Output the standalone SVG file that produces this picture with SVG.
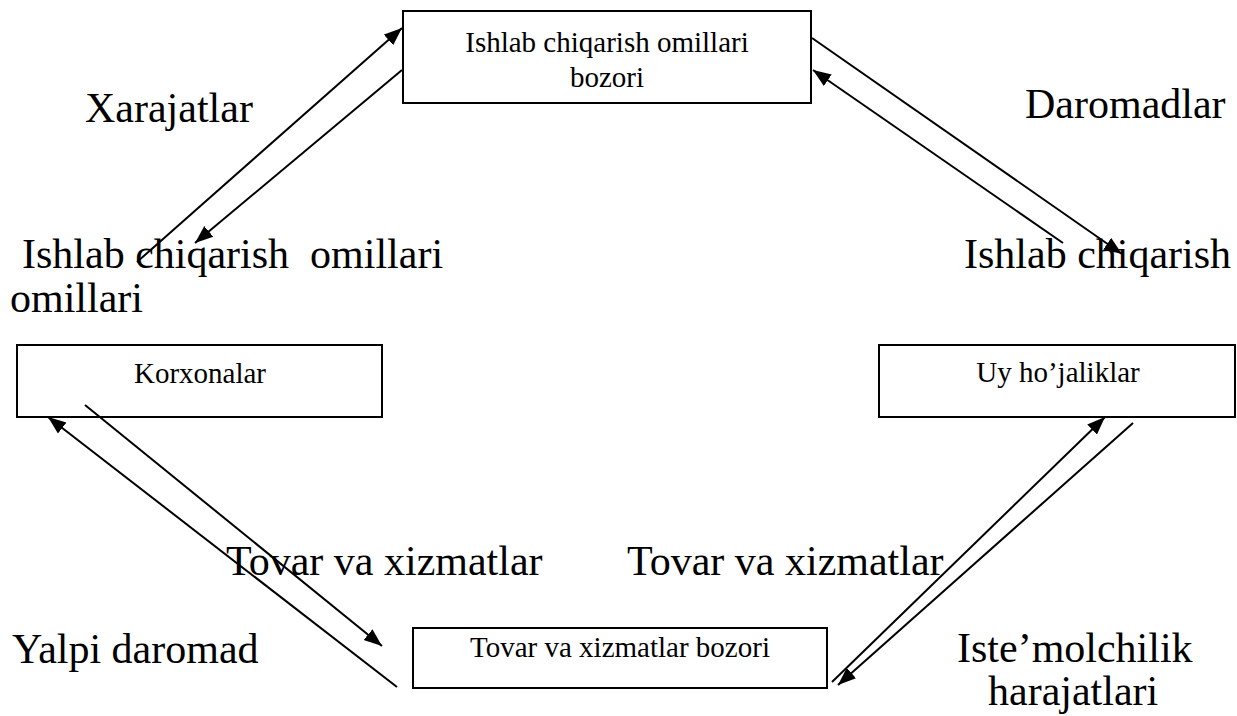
<svg xmlns="http://www.w3.org/2000/svg" width="1237" height="716" viewBox="0 0 1237 716">
<style>
.box{fill:#fff;stroke:#000;stroke-width:2}
.t{font-family:"Liberation Serif","Times New Roman","DejaVu Serif",serif;fill:#000}
.s{font-size:29px}
.b{font-size:42px}
.c{stroke:#000;stroke-width:2;fill:none;marker-end:url(#ah)}
</style>
<defs>
<marker id="ah" markerUnits="userSpaceOnUse" markerWidth="20" markerHeight="16" refX="18" refY="7" orient="auto" viewBox="0 0 20 14">
<path d="M0,0 L18,7 L0,14 Z" fill="#000"/>
</marker>
</defs>
<rect width="1237" height="716" fill="#fff"/>
<g id="node-factor-market">
<rect class="box" x="403" y="11" width="408" height="92"/>
<text class="t s" font-family="Liberation Serif, serif" x="607" y="52" text-anchor="middle">Ishlab chiqarish omillari</text>
<text class="t s" font-family="Liberation Serif, serif" x="607" y="87" text-anchor="middle">bozori</text>
</g>
<g id="node-firms">
<rect class="box" x="17" y="345" width="365" height="72"/>
<text class="t s" font-family="Liberation Serif, serif" x="200" y="383" text-anchor="middle">Korxonalar</text>
</g>
<g id="node-households">
<rect class="box" x="879" y="345" width="356" height="72"/>
<text class="t s" font-family="Liberation Serif, serif" x="1058" y="382" text-anchor="middle">Uy ho’jaliklar</text>
</g>
<g id="node-goods-market">
<rect class="box" x="413" y="628" width="414" height="60"/>
<text class="t s" font-family="Liberation Serif, serif" x="620" y="657" text-anchor="middle">Tovar va xizmatlar bozori</text>
</g>
<g id="labels">
<text class="t b" font-family="Liberation Serif, serif" x="85" y="122">Xarajatlar</text>
<text class="t b" font-family="Liberation Serif, serif" x="1025" y="118">Daromadlar</text>
<text class="t b" font-family="Liberation Serif, serif" x="22" y="268" xml:space="preserve">Ishlab chiqarish  omillari</text>
<text class="t b" font-family="Liberation Serif, serif" x="10" y="312">omillari</text>
<text class="t b" font-family="Liberation Serif, serif" x="964" y="268">Ishlab chiqarish</text>
<text class="t b" font-family="Liberation Serif, serif" x="226" y="575">Tovar va xizmatlar</text>
<text class="t b" font-family="Liberation Serif, serif" x="627" y="575">Tovar va xizmatlar</text>
<text class="t b" font-family="Liberation Serif, serif" x="12" y="663">Yalpi daromad</text>
<text class="t b" font-family="Liberation Serif, serif" x="957" y="662">Iste’molchilik</text>
<text class="t b" font-family="Liberation Serif, serif" x="988" y="705">harajatlari</text>
</g>
<g id="connectors">
<line class="c" x1="137" y1="262" x2="402" y2="28"/>
<line class="c" x1="402" y1="70" x2="195" y2="243"/>
<line class="c" x1="812" y1="38" x2="1122" y2="254"/>
<line class="c" x1="1063" y1="243" x2="813" y2="70"/>
<line class="c" x1="85" y1="405" x2="382" y2="646"/>
<line class="c" x1="397" y1="687" x2="48" y2="417"/>
<line class="c" x1="832" y1="682" x2="1105" y2="417"/>
<line class="c" x1="1133" y1="423" x2="838" y2="685"/>
</g>
</svg>
